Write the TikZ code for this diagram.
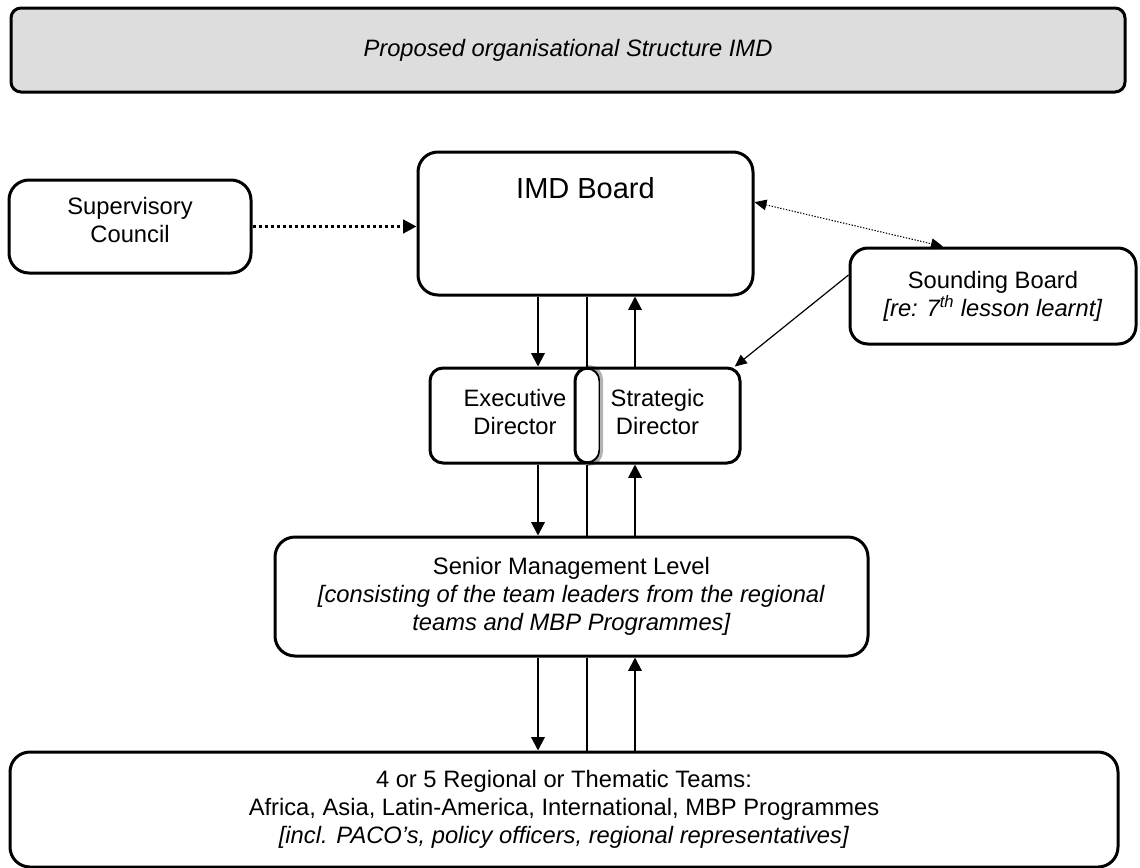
\documentclass[tikz,border=0pt]{standalone}
\usepackage{fontspec}
\setmainfont{Liberation Sans}
\usetikzlibrary{arrows.meta}
\definecolor{titlegray}{HTML}{DDDDDD}
\begin{document}
\begin{tikzpicture}[x=0.75pt,y=-0.75pt,
  box/.style={draw, line width=2.25pt, rounded corners=13.5pt, inner sep=0pt, align=center, fill=white,
    font=\fontsize{17.8}{21}\selectfont},
  arr/.style={line width=1.5pt, -{Triangle[length=10pt,width=10pt]}},
  plain/.style={line width=1.5pt},
  dotarr/.style={line width=2.25pt, dash pattern=on 2.25pt off 2.25pt, -{Triangle[length=10pt,width=10pt]}},
  thindot/.style={line width=0.8pt, dash pattern=on 1pt off 1.2pt, {Triangle[length=9pt,width=8pt]}-{Triangle[length=9pt,width=8pt]}},
  thinarr/.style={line width=0.9pt, -{Triangle[length=9pt,width=8pt]}}]
\useasboundingbox (0,0) rectangle (1140,868);

\node[box, fill=titlegray, minimum width=835.5pt, minimum height=63pt, rounded corners=7.5pt,
  font=\itshape\fontsize{17.8}{21}\selectfont] (title) at (568,50) {Proposed organisational Structure IMD};

\node[box, minimum width=251.25pt, minimum height=107.25pt, rounded corners=15pt] (imd) at (585.5,223.5) {};
\node[font=\fontsize{21.75}{26}\selectfont, inner sep=0pt] (imdt) at (585.5,188) {IMD Board};

\node[box, minimum width=181.5pt, minimum height=69.75pt, rounded corners=15pt, text depth=10pt] (sup) at (130,226.5) {Supervisory\\Council};

\node[box, minimum width=214.5pt, minimum height=72pt] (sound) at (993,296) {Sounding Board\\\textit{[re: 7\textsuperscript{th} lesson learnt]}};

\node[box, minimum width=127.5pt, minimum height=71.25pt, rounded corners=9.75pt, text depth=6pt] (exec) at (515,415.5) {Executive\\Director};
\draw[gray!60, line width=2.25pt, rounded corners=9.75pt] ([xshift=-12pt]exec.north east) -- (exec.north east) -- (exec.south east) -- ([xshift=-12pt]exec.south east);
\node[box, fill=none, minimum width=123.75pt, minimum height=71.25pt, rounded corners=9.75pt, text depth=6pt] (strat) at (657.5,415.5) {Strategic\\Director};

\node[box, minimum width=444.75pt, minimum height=89.25pt, rounded corners=15pt] (senior) at (571.5,596.5) {Senior Management Level\\\textit{[consisting of the team leaders from the regional}\\\textit{teams and MBP Programmes]}};

\node[box, minimum width=831pt, minimum height=86.25pt, rounded corners=15pt] (teams) at (564,809.5) {4 or 5 Regional or Thematic Teams:\\Africa, Asia, Latin-America, International, MBP Programmes\\\textit{[incl. PACO’s, policy officers, regional representatives]}};

\coordinate (cL) at (538,0);
\coordinate (cM) at (587,0);
\coordinate (cR) at (635,0);

\draw[arr] (imd.south -| cL) -- (exec.north -| cL);
\draw[plain] (imd.south -| cM) -- (exec.north -| cM);
\draw[arr] (strat.north -| cR) -- (imd.south -| cR);

\draw[arr] (exec.south -| cL) -- (senior.north -| cL);
\draw[plain] (exec.south -| cM) -- (senior.north -| cM);
\draw[arr] (senior.north -| cR) -- (strat.south -| cR);

\draw[arr] (senior.south -| cL) -- (teams.north -| cL);
\draw[plain] (senior.south -| cM) -- (teams.north -| cM);
\draw[arr] (teams.north -| cR) -- (senior.south -| cR);

\draw[dotarr] (sup.east) -- (sup.east -| imd.west);
\draw[thindot] ([yshift=16pt]imd.east) -- ([xshift=-37.5pt]sound.north);
\draw[thinarr] ([yshift=15.75pt]sound.west) -- ([xshift=-5pt]strat.north east);
\end{tikzpicture}
\end{document}
